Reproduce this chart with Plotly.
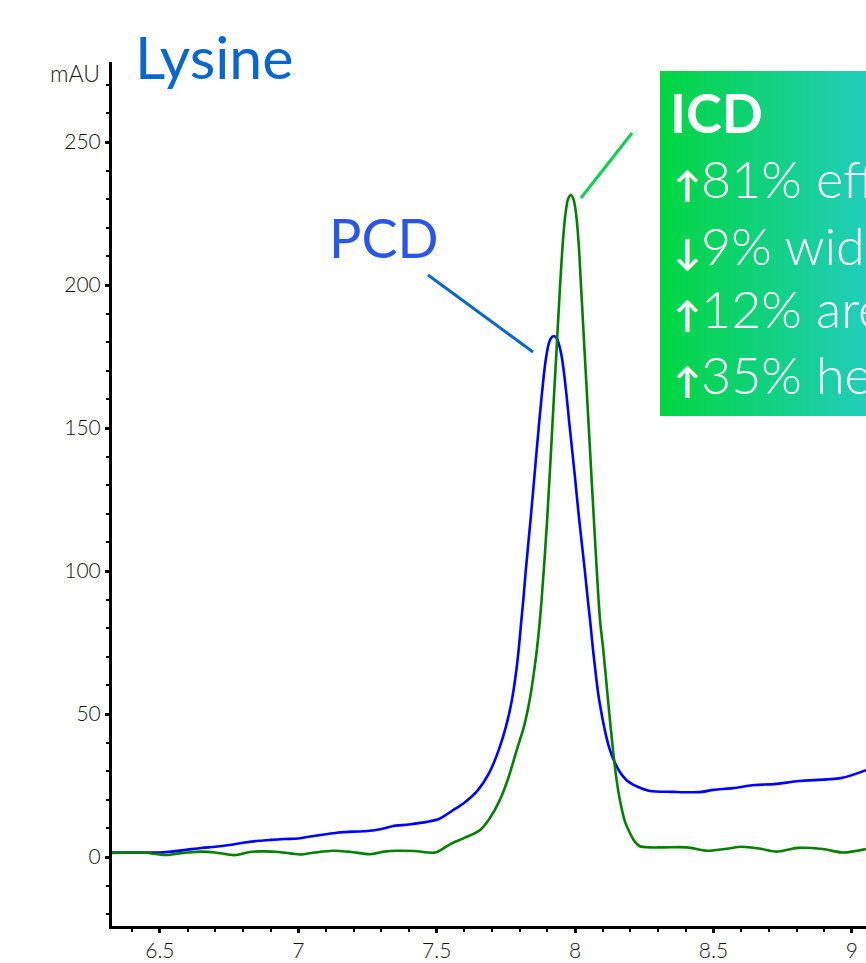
import plotly.graph_objects as go

# ---- data (retention time in min, absorbance in mAU) ----
pcd_time = [6.327, 6.40, 6.5, 6.55, 6.6, 6.65, 6.7, 6.75, 6.8, 6.86,
            6.9, 6.95, 7.0, 7.05, 7.1, 7.14, 7.2, 7.25, 7.3, 7.34,
            7.4, 7.465, 7.51, 7.559, 7.6, 7.649, 7.69, 7.724, 7.750, 7.772,
            7.786, 7.796, 7.806, 7.813, 7.822, 7.839, 7.855, 7.871, 7.887, 7.895,
            7.903, 7.912, 7.923, 7.934, 7.943, 7.952, 7.961, 7.969, 7.978,
            7.997, 8.015, 8.035, 8.046, 8.054, 8.065, 8.087, 8.126, 8.16, 8.186,
            8.228, 8.27, 8.35, 8.45, 8.5, 8.57, 8.65, 8.72, 8.81, 8.96, 9.051]
pcd_mau = [1.6, 1.6, 1.6, 2.0, 2.6, 3.2, 3.6, 4.2, 5.0, 5.7,
           6.0, 6.3, 6.5, 7.3, 8.0, 8.5, 8.9, 9.1, 9.8, 10.8,
           11.4, 12.3, 13.4, 16.4, 19.0, 23.4, 29.5, 37.4, 45.5, 55.0,
           64.0, 72.4, 82.9, 89.9, 100.3, 117.8, 135.3, 152.8, 168.5, 174.5,
           178.8, 181.3, 182.2, 181.3, 178.8, 174.8, 168.5, 161.5, 152.8,
           135.3, 117.8, 100.3, 89.9, 82.9, 72.4, 54.9, 37.4, 30.0, 26.9,
           24.5, 23.1, 22.8, 22.7, 23.5, 24.1, 25.2, 25.5, 26.6, 27.6, 30.4]

icd_time = [6.327, 6.40, 6.45, 6.518, 6.56, 6.6, 6.65, 6.7, 6.771, 6.82,
            6.87, 6.93, 7.006, 7.06, 7.125, 7.19, 7.259, 7.31, 7.36, 7.42,
            7.494, 7.53, 7.559, 7.6, 7.656, 7.69, 7.728, 7.76, 7.789, 7.815,
            7.837, 7.852, 7.866, 7.879, 7.899, 7.919, 7.933, 7.945, 7.957, 7.966,
            7.975, 7.985, 7.995, 8.004, 8.013, 8.021, 8.034,
            8.048, 8.068, 8.090, 8.102, 8.119, 8.137, 8.150, 8.162,
            8.180, 8.198, 8.215, 8.234, 8.27, 8.32, 8.404, 8.476, 8.54, 8.603,
            8.67, 8.729, 8.805, 8.895, 8.967, 9.051]
icd_mau = [1.4, 1.6, 1.5, 0.7, 1.2, 1.6, 1.9, 1.6, 0.7, 1.7,
           2.0, 1.8, 0.9, 1.6, 2.2, 1.8, 1.0, 1.9, 2.2, 2.1,
           1.6, 3.4, 5.0, 6.7, 9.4, 13.3, 19.9, 28.0, 37.4, 45.5,
           55.5, 65.0, 76.0, 89.9, 117.8, 152.8, 177.3, 198.5, 216.5, 225.5,
           230.2, 231.5, 229.8, 224.5, 214.5, 200.5, 177.3,
           152.8, 117.8, 82.9, 72.4, 54.9, 37.4, 27.0, 19.9,
           12.5, 8.4, 5.5, 3.8, 3.4, 3.4, 3.4, 2.2, 2.8, 3.6,
           2.9, 1.9, 3.2, 2.8, 1.6, 2.8]

x_ticks = [6.5, 7, 7.5, 8, 8.5, 9]
x_tick_labels = ["6.5", "7", "7.5", "8", "8.5", "9"]
y_ticks = [0, 50, 100, 150, 200, 250]
y_tick_labels = ["0", "50", "100", "150", "200", "250"]

title_text = "Lysine"
unit_text = "mAU"
pcd_label = "PCD"
icd_label = "ICD"
icd_arrows = ["↑", "↓", "↑", "↑"]
icd_lines = ["81% efficiency", "9% width", "12% area", "35% height"]

FONT = "Lato"

fig = go.Figure()
fig.add_trace(go.Scatter(x=pcd_time, y=pcd_mau, mode="lines", name="PCD",
                         line=dict(color="#0000ff", width=2.6, shape="spline", smoothing=0.8)))
fig.add_trace(go.Scatter(x=icd_time, y=icd_mau, mode="lines", name="ICD",
                         line=dict(color="#008000", width=2.6, shape="spline", smoothing=0.8)))

# gradient box (drawn as thin stripes)
shapes = []
bx0, bx1, by0, by1 = 0.7268, 1.0, 0.5903, 0.9896
n = 60
c0 = (0, 214, 64)
c1 = (34, 205, 187)
for i in range(n):
    t = (i + 0.5) / n
    col = "rgb(%d,%d,%d)" % tuple(round(a + (b - a) * t) for a, b in zip(c0, c1))
    xa = bx0 + (bx1 - bx0) * i / n
    xb = bx0 + (bx1 - bx0) * (i + 1) / n + 0.001
    shapes.append(dict(type="rect", xref="paper", yref="paper", x0=xa, x1=xb,
                       y0=by0, y1=by1, fillcolor=col, line=dict(width=0), layer="above"))

# leader lines
shapes.append(dict(type="line", xref="paper", yref="paper", x0=0.4191, y0=0.7535,
                   x1=0.5584, y1=0.6644, line=dict(color="#0a66cc", width=3)))
shapes.append(dict(type="line", xref="paper", yref="paper", x0=0.6897, y0=0.9178,
                   x1=0.6220, y1=0.8426, line=dict(color="#11d155", width=3)))

annotations = [
    dict(text=title_text, xref="paper", yref="paper", x=0.0285, y=1.0060,
         xanchor="left", yanchor="middle", showarrow=False,
         font=dict(family=FONT, size=59, color="#0a66cc")),
    dict(text=unit_text, xref="paper", yref="paper", x=-0.0130, y=0.9873,
         xanchor="right", yanchor="middle", showarrow=False,
         font=dict(family=FONT, size=23, color="#1a1a1a", weight=300)),
    dict(text=pcd_label, xref="paper", yref="paper", x=0.2850, y=0.7969,
         xanchor="left", yanchor="middle", showarrow=False,
         font=dict(family=FONT, size=54, color="#2a55e5")),
    dict(text="<b>" + icd_label + "</b>", xref="paper", yref="paper", x=0.7374, y=0.9416,
         xanchor="left", yanchor="middle", showarrow=False,
         font=dict(family=FONT, size=54, color="white")),
]
line_y = [0.8652, 0.7882, 0.7147, 0.6389]
for arr, txt, yy in zip(icd_arrows, icd_lines, line_y):
    annotations.append(dict(text="<span style='font-size:36px;font-weight:bold'>" + arr + "</span>" + txt,
                            xref="paper", yref="paper", x=0.7427, y=yy,
                            xanchor="left", yanchor="middle", showarrow=False,
                            font=dict(family=FONT, size=52, color="white", weight=300)))

axis_common = dict(showgrid=False, zeroline=False, showline=True, linecolor="black",
                   linewidth=3, ticks="outside", tickcolor="black", ticklen=4, tickwidth=2.5,
                   tickfont=dict(family=FONT, size=21, color="#111111", weight=300))

fig.update_layout(
    width=866, height=963,
    margin=dict(l=112, r=0, t=62, b=37),
    paper_bgcolor="white", plot_bgcolor="white",
    showlegend=False,
    shapes=shapes,
    annotations=annotations,
    xaxis=dict(range=[6.327, 9.051], tickvals=x_ticks, ticktext=x_tick_labels,
               minor=dict(dtick=0.1, tick0=6.5, ticks="outside", ticklen=3, tickwidth=2, tickcolor="black"),
               **axis_common),
    yaxis=dict(range=[-24.1, 278], tickvals=y_ticks, ticktext=y_tick_labels,
               minor=dict(dtick=10, tick0=0, ticks="outside", ticklen=3, tickwidth=2, tickcolor="black"),
               **axis_common),
)

fig.write_html("out.html", config={"displayModeBar": False},
               post_script="document.body.style.margin='0px';document.body.style.overflow='hidden';")
